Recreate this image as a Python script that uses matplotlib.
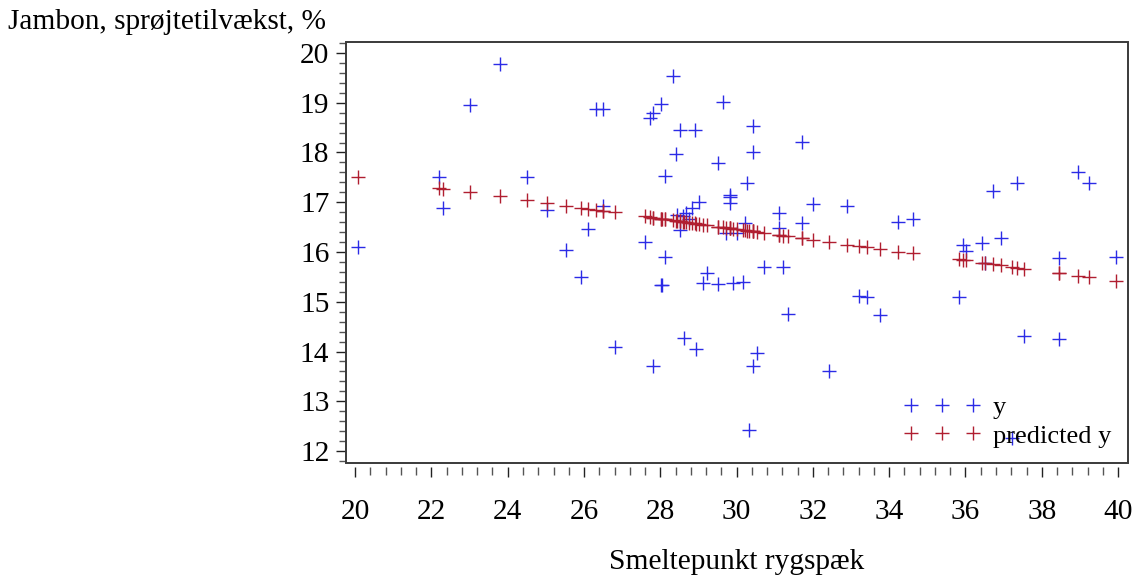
import matplotlib
matplotlib.use("Agg")
import matplotlib.pyplot as plt
from matplotlib.patches import Rectangle
from matplotlib.ticker import MultipleLocator

# ---- data ----
smeltepunkt = [20.08, 22.20, 22.31, 23.01, 23.80, 24.51, 25.03, 25.53, 25.92, 26.11,
               26.32, 26.50, 26.50, 26.82, 27.60, 27.73, 27.81, 27.81, 28.02, 28.02,
               28.05, 28.13, 28.13, 28.34, 28.41, 28.44, 28.52, 28.52, 28.60, 28.62,
               28.68, 28.75, 28.83, 28.91, 28.94, 29.02, 29.12, 29.23, 29.52, 29.52,
               29.65, 29.72, 29.83, 29.83, 29.83, 29.91, 30.01, 30.17, 30.27, 30.22,
               30.33, 30.43, 30.43, 30.43, 30.54, 30.72, 31.10, 31.10, 31.22, 31.35,
               31.72, 31.72, 32.00, 32.43, 32.90, 33.21, 33.42, 33.76, 34.23, 34.63,
               35.83, 35.94, 36.02, 36.43, 36.51, 36.72, 36.93, 37.22, 37.35, 37.54,
               38.45, 38.45, 38.95, 39.24, 39.95]

jambon = [16.10, 17.51, 16.88, 18.95, 19.78, 17.51, 16.84, 16.04, 15.50, 16.46,
          18.87, 18.87, 16.92, 14.09, 16.20, 18.69, 18.79, 13.71, 18.97, 15.34,
          15.33, 17.53, 15.90, 19.54, 17.97, 16.74, 18.45, 16.44, 16.72, 14.27,
          16.78, 16.66, 16.88, 18.45, 14.05, 17.00, 15.38, 15.58, 17.79, 15.36,
          19.02, 16.39, 17.15, 17.10, 16.98, 15.38, 16.39, 15.40, 17.39, 16.58,
          12.42, 18.53, 18.01, 13.71, 13.97, 15.70, 16.78, 16.48, 15.70, 14.75,
          18.21, 16.58, 16.96, 13.61, 16.92, 15.12, 15.10, 14.73, 16.60, 16.66,
          15.10, 16.14, 16.02, 16.18, 15.78, 17.23, 16.28, 12.26, 17.39, 14.31,
          15.88, 14.25, 17.61, 17.39, 15.90]

predicted = [17.51, 17.29, 17.27, 17.20, 17.12, 17.04, 16.99, 16.93, 16.89, 16.87,
             16.85, 16.83, 16.83, 16.80, 16.72, 16.70, 16.69, 16.69, 16.67, 16.67,
             16.67, 16.66, 16.66, 16.64, 16.63, 16.63, 16.62, 16.62, 16.61, 16.61,
             16.60, 16.59, 16.59, 16.58, 16.57, 16.57, 16.55, 16.54, 16.51, 16.51,
             16.50, 16.49, 16.48, 16.48, 16.48, 16.47, 16.46, 16.44, 16.43, 16.44,
             16.43, 16.42, 16.42, 16.42, 16.40, 16.39, 16.35, 16.35, 16.33, 16.32,
             16.28, 16.28, 16.25, 16.20, 16.15, 16.12, 16.10, 16.06, 16.01, 15.97,
             15.85, 15.83, 15.83, 15.78, 15.77, 15.75, 15.73, 15.70, 15.68, 15.66,
             15.57, 15.57, 15.52, 15.49, 15.41]

x_ticks = [20, 22, 24, 26, 28, 30, 32, 34, 36, 38, 40]
y_ticks = [12, 13, 14, 15, 16, 17, 18, 19, 20]
x_title = "Smeltepunkt rygspæk"
y_title = "Jambon, sprøjtetilvækst, %"
series_labels = ["y", "predicted y"]

# ---- styling ----
plt.rcParams['font.family'] = ['Liberation Serif', 'DejaVu Serif']
FS = 21.2
LFS = 19.0
BLUE = '#2b2be6'
RED = '#b01e30'

fig = plt.figure(figsize=(11.34, 5.80), dpi=100)
ax = fig.add_axes([346/1134, 1 - 463/580, (1128-346)/1134, (463-42)/580])

ax.plot(smeltepunkt, jambon, linestyle='none', marker='+', markersize=9.5,
        markeredgewidth=1.0, color=BLUE, label=series_labels[0])
ax.plot(smeltepunkt, predicted, linestyle='none', marker='+', markersize=9.5,
        markeredgewidth=1.0, color=RED, label=series_labels[1])

ax.set_xlim(19.76, 40.26)
ax.set_ylim(11.76, 20.22)
ax.set_xticks(x_ticks)
ax.set_yticks(y_ticks)
ax.xaxis.set_minor_locator(MultipleLocator(0.4))
ax.yaxis.set_minor_locator(MultipleLocator(0.2))

for s in ax.spines.values():
    s.set_visible(False)
ax.spines['bottom'].set_position(('outward', 3))
ax.add_patch(Rectangle((0, 0), 1, 1, transform=ax.transAxes, fill=False,
                       lw=1.4, edgecolor='#3a3a3a', clip_on=False, zorder=5))

ax.tick_params(axis='x', which='major', direction='out', length=7, width=1.0,
               color='#222222', labelsize=FS, pad=16)
ax.tick_params(axis='x', which='minor', direction='out', length=6, width=1.0,
               color='#555555')
ax.tick_params(axis='y', which='major', direction='out', length=7, width=1.0,
               color='#222222', labelsize=FS, pad=5)
ax.tick_params(axis='y', which='minor', direction='out', length=5, width=1.0,
               color='#555555')

ax.set_xlabel(x_title, fontsize=FS, labelpad=17)
ax.set_ylabel(y_title, fontsize=FS, rotation=0, ha='left', va='center')
ax.yaxis.set_label_coords((8 - 346) / 782, (463 - 22) / 421)

leg = ax.legend(loc='lower left', bbox_to_anchor=((903 - 346) / 782, 15.5 / 421),
                numpoints=3, frameon=False, fontsize=LFS, handlelength=2.95,
                handletextpad=0.45, labelspacing=0.2, borderpad=0, borderaxespad=0)

fig.savefig('out.png', dpi=100)
